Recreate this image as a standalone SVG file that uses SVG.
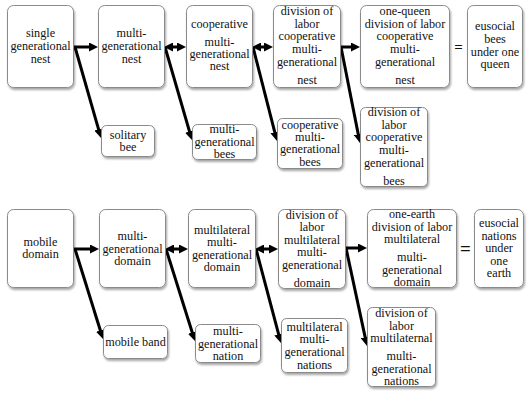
<svg xmlns="http://www.w3.org/2000/svg" width="529" height="396" viewBox="0 0 529 396">
<defs>
<style>
.box{fill:#fff;stroke:#8a8a8a;stroke-width:1;filter:url(#sh)}
text{font-family:"Liberation Serif","Times New Roman",serif;font-size:12.2px;fill:#111;text-anchor:middle}
.eq{font-weight:bold}
.c path{fill:none;stroke:#000;stroke-width:3}
.s{marker-end:url(#ah)}
.d{marker-end:url(#ah);marker-start:url(#ah)}
</style>
<filter id="sh" x="-20%" y="-20%" width="140%" height="140%">
<feDropShadow dx="1" dy="2" stdDeviation="1.2" flood-color="#000" flood-opacity="0.35"/>
</filter>
<marker id="ah" viewBox="0 0 10 10" refX="5" refY="5" markerWidth="3" markerHeight="3" orient="auto-start-reverse">
<path d="M0,0 L10,5 L0,10 z" fill="#000"/>
</marker>
</defs>
<rect width="529" height="396" fill="#fff"/>

<g id="connectors" class="c">
<path class="s" d="M74,47 H93.5"/>
<path class="s" d="M75,47 L99.8,133.7"/>
<path class="d" d="M168.5,47 H181.5"/>
<path class="s" d="M165,47 L190.7,135.7"/>
<path class="d" d="M256.5,47 H268.5"/>
<path class="s" d="M253,47 L275.9,136.6"/>
<path class="s" d="M340,47 H355.5"/>
<path class="s" d="M341,47 L359.1,138.6"/>

<path class="s" d="M74,249 H94.5"/>
<path class="s" d="M75,249 L101.7,334.7"/>
<path class="d" d="M169.5,249 H183.5"/>
<path class="s" d="M166,249 L193.6,336.7"/>
<path class="d" d="M259.5,249 H273.5"/>
<path class="s" d="M256,249 L279.8,338.7"/>
<path class="s" d="M345,248 H362.5"/>
<path class="s" d="M346,248 L366.1,341.6"/>
</g>

<g id="n1"><rect class="box" x="7.5" y="5.5" width="66" height="82" rx="6"/>
<text x="40.5" y="37">single</text><text x="40.5" y="50">generational</text><text x="40.5" y="63">nest</text></g>
<g id="n2"><rect class="box" x="98.5" y="5.5" width="66" height="82" rx="6"/>
<text x="131.5" y="37">multi-</text><text x="131.5" y="50">generational</text><text x="131.5" y="63">nest</text></g>
<g id="n3"><rect class="box" x="186.5" y="5.5" width="66" height="82" rx="6"/>
<text x="219.5" y="28">cooperative</text><text x="219.5" y="46">multi-</text><text x="219.5" y="58">generational</text><text x="219.5" y="70">nest</text></g>
<g id="n4"><rect class="box" x="273.5" y="5.5" width="67" height="82" rx="6"/>
<text x="307" y="15">division of</text><text x="307" y="28">labor</text><text x="307" y="40">cooperative</text><text x="307" y="53">multi-</text><text x="307" y="66">generational</text><text x="307" y="84">nest</text></g>
<g id="n5"><rect class="box" x="360.5" y="5.5" width="89" height="82" rx="6"/>
<text x="405" y="15">one-queen</text><text x="405" y="28">division of labor</text><text x="405" y="40">cooperative</text><text x="405" y="53">multi-</text><text x="405" y="66">generational</text><text x="405" y="84">nest</text></g>
<text class="eq" x="458.5" y="52" style="font-size:15px">=</text>
<g id="n6"><rect class="box" x="467.5" y="5.5" width="55" height="82" rx="6"/>
<text x="495" y="30">eusocial</text><text x="495" y="43">bees</text><text x="495" y="56">under one</text><text x="495" y="68">queen</text></g>

<g id="n7"><rect class="box" x="101.5" y="125.5" width="53" height="31" rx="5"/>
<text x="128" y="139">solitary</text><text x="128" y="151">bee</text></g>
<g id="n8"><rect class="box" x="192.5" y="124.5" width="64" height="35" rx="5"/>
<text x="224.5" y="133">multi-</text><text x="224.5" y="146">generational</text><text x="224.5" y="158">bees</text></g>
<g id="n9"><rect class="box" x="277.5" y="118.5" width="65" height="50" rx="5"/>
<text x="310" y="129">cooperative</text><text x="310" y="141">multi-</text><text x="310" y="153">generational</text><text x="310" y="166">bees</text></g>
<g id="n10"><rect class="box" x="360.5" y="107.5" width="67" height="79" rx="5"/>
<text x="394" y="116">division of</text><text x="394" y="129">labor</text><text x="394" y="141">cooperative</text><text x="394" y="154">multi-</text><text x="394" y="167">generational</text><text x="394" y="185">bees</text></g>

<g id="n11"><rect class="box" x="7.5" y="209.5" width="66" height="78" rx="6"/>
<text x="40.5" y="246">mobile</text><text x="40.5" y="258">domain</text></g>
<g id="n12"><rect class="box" x="99.5" y="209.5" width="66" height="78" rx="6"/>
<text x="132.5" y="240">multi-</text><text x="132.5" y="253">generational</text><text x="132.5" y="265">domain</text></g>
<g id="n13"><rect class="box" x="188.5" y="209.5" width="67" height="78" rx="6"/>
<text x="222" y="234">multilateral</text><text x="222" y="246">multi-</text><text x="222" y="259">generational</text><text x="222" y="271">domain</text></g>
<g id="n14"><rect class="box" x="278.5" y="209.5" width="67" height="79" rx="6"/>
<text x="312" y="219">division of</text><text x="312" y="231">labor</text><text x="312" y="244">multilateral</text><text x="312" y="256">multi-</text><text x="312" y="269">generational</text><text x="312" y="287">domain</text></g>
<g id="n15"><rect class="box" x="367.5" y="209.5" width="89" height="78" rx="6"/>
<text x="412" y="218">one-earth</text><text x="412" y="231">division of labor</text><text x="412" y="243">multilateral</text><text x="412" y="261">multi-</text><text x="412" y="274">generational</text><text x="412" y="286">domain</text></g>
<text class="eq" x="465.5" y="255" style="font-size:19px">=</text>
<g id="n16"><rect class="box" x="474.5" y="209.5" width="49" height="78" rx="6"/>
<text x="499" y="227">eusocial</text><text x="499" y="240">nations</text><text x="499" y="252">under</text><text x="499" y="265">one</text><text x="499" y="277">earth</text></g>

<g id="n17"><rect class="box" x="103.5" y="325.5" width="64" height="33" rx="5"/>
<text x="135.5" y="346">mobile band</text></g>
<g id="n18"><rect class="box" x="195.5" y="324.5" width="65" height="38" rx="5"/>
<text x="228" y="335">multi-</text><text x="228" y="348">generational</text><text x="228" y="360">nation</text></g>
<g id="n19"><rect class="box" x="281.5" y="318.5" width="66" height="54" rx="5"/>
<text x="314.5" y="331">multilateral</text><text x="314.5" y="343">multi-</text><text x="314.5" y="356">generational</text><text x="314.5" y="369">nations</text></g>
<g id="n20"><rect class="box" x="367.5" y="307.5" width="68" height="79" rx="5"/>
<text x="401.5" y="317">division of</text><text x="401.5" y="330">labor</text><text x="401.5" y="342">multilaternal</text><text x="401.5" y="360">multi-</text><text x="401.5" y="373">generational</text><text x="401.5" y="385">nations</text></g>
</svg>
